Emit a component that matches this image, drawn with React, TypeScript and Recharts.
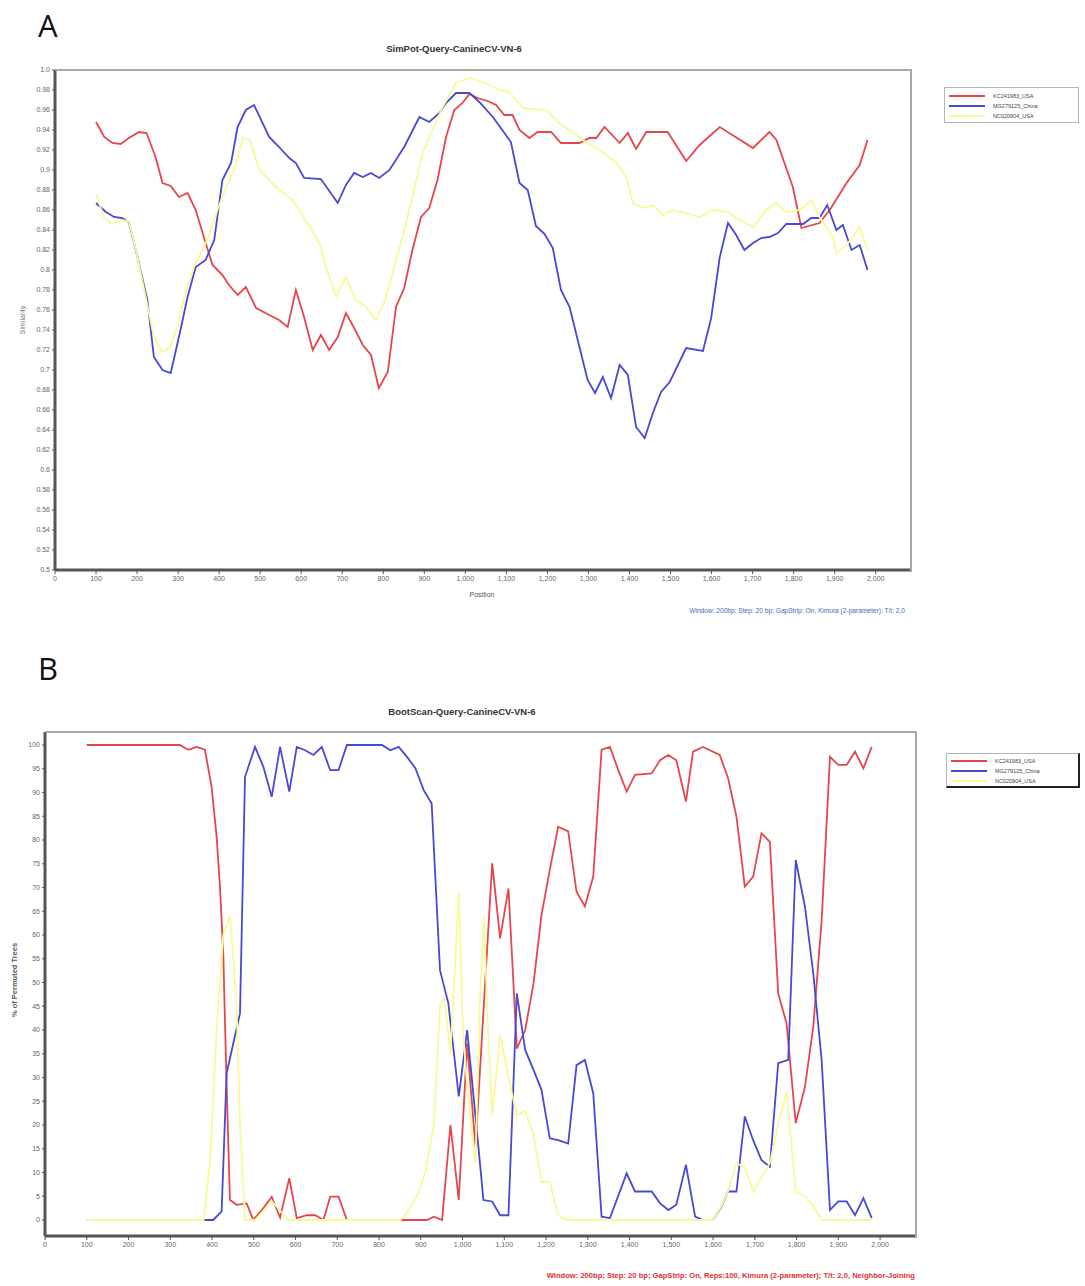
import React from 'react';
import { LineChart, Line, XAxis, YAxis } from 'recharts';

// ---------- Panel A: SimPlot (similarity) ----------
const simKC241983: [number, number][] = [
  [100,0.948],[120,0.933],[140,0.927],[160,0.926],[180,0.932],[205,0.938],[223,0.937],[245,0.913],[262,0.887],[282,0.884],
  [302,0.873],[323,0.877],[343,0.860],[367,0.827],[384,0.805],[408,0.795],[424,0.785],[445,0.775],[465,0.783],[490,0.762],
  [522,0.755],[546,0.750],[567,0.743],[587,0.780],[607,0.753],[628,0.720],[648,0.735],[668,0.720],[689,0.733],[709,0.757],
  [729,0.742],[750,0.725],[770,0.715],[789,0.682],[811,0.698],[831,0.763],[851,0.782],[871,0.820],[892,0.853],[912,0.862],
  [932,0.890],[953,0.933],[973,0.960],[993,0.967],[1010,0.976],[1030,0.972],[1054,0.969],[1075,0.965],[1095,0.955],[1115,0.955],
  [1132,0.940],[1156,0.932],[1176,0.938],[1209,0.938],[1233,0.927],[1278,0.927],[1302,0.932],[1319,0.932],[1339,0.943],[1376,0.927],
  [1396,0.937],[1416,0.921],[1441,0.938],[1493,0.938],[1538,0.909],[1571,0.925],[1620,0.943],[1701,0.922],[1741,0.938],[1758,0.930],
  [1798,0.883],[1819,0.842],[1863,0.847],[1888,0.860],[1929,0.887],[1961,0.905],[1980,0.930],
];
const simMG279125: [number, number][] = [
  [100,0.867],[124,0.858],[144,0.853],[164,0.852],[180,0.848],[201,0.813],[225,0.770],[241,0.713],[262,0.700],[282,0.697],
  [302,0.733],[323,0.773],[343,0.803],[367,0.810],[388,0.830],[408,0.890],[429,0.907],[445,0.943],[465,0.960],[485,0.965],
  [522,0.933],[546,0.923],[571,0.912],[587,0.907],[607,0.892],[648,0.891],[689,0.867],[709,0.885],[729,0.897],[750,0.893],
  [770,0.897],[790,0.892],[815,0.900],[851,0.923],[888,0.953],[912,0.948],[937,0.957],[953,0.967],[977,0.977],[1010,0.977],
  [1034,0.968],[1067,0.953],[1111,0.928],[1132,0.887],[1152,0.880],[1172,0.844],[1193,0.836],[1213,0.822],[1233,0.780],[1254,0.763],
  [1278,0.723],[1298,0.690],[1316,0.677],[1335,0.693],[1355,0.672],[1376,0.705],[1396,0.695],[1416,0.643],[1437,0.632],[1457,0.657],
  [1477,0.678],[1498,0.688],[1538,0.722],[1579,0.719],[1599,0.752],[1620,0.813],[1640,0.847],[1660,0.835],[1680,0.820],[1701,0.827],
  [1721,0.832],[1741,0.833],[1762,0.837],[1782,0.846],[1823,0.846],[1843,0.852],[1863,0.852],[1882,0.865],[1904,0.840],[1920,0.845],
  [1941,0.820],[1961,0.825],[1980,0.800],
];
const simNC020904: [number, number][] = [
  [100,0.876],[120,0.852],[140,0.846],[160,0.850],[180,0.849],[200,0.815],[220,0.775],[240,0.735],[260,0.718],[280,0.722],
  [300,0.745],[320,0.780],[340,0.805],[360,0.820],[380,0.840],[400,0.865],[420,0.885],[440,0.905],[458,0.932],[475,0.930],
  [498,0.900],[538,0.883],[579,0.870],[611,0.850],[644,0.827],[660,0.803],[685,0.773],[709,0.793],[733,0.770],[758,0.763],
  [782,0.750],[802,0.767],[823,0.797],[847,0.833],[871,0.873],[896,0.917],[920,0.940],[945,0.963],[977,0.987],[1010,0.992],
  [1042,0.988],[1083,0.980],[1107,0.978],[1140,0.962],[1197,0.960],[1229,0.947],[1286,0.930],[1327,0.920],[1368,0.907],[1392,0.893],
  [1408,0.867],[1433,0.862],[1457,0.865],[1481,0.855],[1506,0.860],[1538,0.857],[1571,0.853],[1603,0.860],[1640,0.858],[1660,0.852],
  [1701,0.843],[1733,0.860],[1758,0.867],[1782,0.858],[1815,0.860],[1843,0.870],[1863,0.853],[1896,0.833],[1904,0.817],[1929,0.825],
  [1961,0.843],[1980,0.820],
];

// ---------- Panel B: BootScan (% of permuted trees) ----------
const bootKC241983: [number, number][] = [
  [100,100],[323,100],[343,99],[363,99.6],[383,99],[399,91.2],[411,80.7],[419,70.2],[427,56],[435,28],
  [443,4.2],[459,3.2],[483,3.5],[499,0],[523,2.5],[543,4.9],[563,0.5],[585,8.8],[603,0.4],[627,1],
  [647,1],[667,0],[683,4.9],[703,4.9],[723,0],[915,0],[931,0.7],[951,0],[971,20],[991,4.2],
  [1011,37.2],[1031,15.4],[1071,75.1],[1090,59.3],[1110,69.8],[1130,36.1],[1150,40],[1170,49.8],[1189,64.2],[1209,73.7],
  [1229,82.8],[1253,81.8],[1273,69.1],[1293,66],[1313,72.3],[1333,99],[1353,99.6],[1373,94.7],[1393,90.2],[1413,93.7],
  [1453,94],[1473,96.8],[1493,97.9],[1512,96.8],[1535,88.1],[1552,98.6],[1576,99.6],[1616,97.9],[1636,93],[1656,84.9],
  [1676,70.2],[1696,72.3],[1716,81.4],[1736,79.6],[1756,47.7],[1776,41.4],[1798,20.4],[1820,28],[1840,40.7],[1860,63],
  [1880,97.5],[1900,95.8],[1920,95.8],[1940,98.6],[1960,95.1],[1980,99.6],
];
const bootMG279125: [number, number][] = [
  [100,0],[331,0],[403,0],[423,1.8],[435,30.9],[451,37.2],[467,43.5],[479,93.3],[503,99.6],[523,95.4],
  [543,89.1],[563,99.6],[585,90.2],[603,99.6],[623,98.9],[643,97.9],[663,99.6],[683,94.7],[703,94.7],[723,100],
  [807,100],[827,98.9],[847,99.6],[867,97.5],[887,95.1],[907,90.5],[926,87.7],[946,52.6],[966,45.6],[991,26],
  [1011,40],[1038,15.4],[1050,4.2],[1071,3.9],[1090,1],[1110,1],[1130,47.7],[1150,35.8],[1170,31.6],[1189,27.4],
  [1209,17.2],[1229,16.8],[1253,16.1],[1273,32.6],[1293,33.7],[1313,26.7],[1333,0.7],[1353,0.4],[1393,9.8],[1413,6],
  [1453,6],[1473,3.5],[1493,2.1],[1512,3.2],[1535,11.6],[1557,0.7],[1576,0],[1600,0],[1620,2.8],[1636,6],
  [1656,6],[1676,21.8],[1696,16.8],[1716,12.6],[1736,11.2],[1756,33],[1780,33.7],[1798,75.8],[1820,66],[1840,51.9],
  [1860,33.7],[1880,2.1],[1900,3.9],[1920,3.9],[1940,1],[1960,4.6],[1980,0.4],
];
const bootNC020904: [number, number][] = [
  [100,0],[380,0],[395,12],[411,40],[427,60],[443,64],[451,55],[459,45],[467,20],[479,0],
  [503,0],[543,4],[583,0],[851,0],[871,2],[891,5],[911,10],[931,20],[946,45],[956,47],
  [971,35],[991,69],[1001,40],[1011,28],[1031,12],[1041,45],[1051,64],[1061,40],[1071,22],[1090,39],
  [1110,30],[1130,22],[1150,23],[1170,18],[1189,8],[1209,8],[1229,1],[1249,0],[1600,0],[1620,3],
  [1636,6],[1656,12],[1676,11],[1696,6],[1716,9],[1736,12],[1756,20],[1776,27],[1798,6],[1820,5],
  [1840,3],[1860,0],[1980,0],
];

const seriesNames = ['KC241983_USA', 'MG279125_China', 'NC020904_USA'];
const seriesColors = ['#E4474B', '#4848D4', '#F9F99A'];

const xTicks = [0,100,200,300,400,500,600,700,800,900,1000,1100,1200,1300,1400,1500,1600,1700,1800,1900,2000];
const yTicksA = [0.5,0.52,0.54,0.56,0.58,0.6,0.62,0.64,0.66,0.68,0.7,0.72,0.74,0.76,0.78,0.8,0.82,0.84,0.86,0.88,0.9,0.92,0.94,0.96,0.98,1.0];
const yTicksB = [0,5,10,15,20,25,30,35,40,45,50,55,60,65,70,75,80,85,90,95,100];

const toPts = (arr: [number, number][]) => arr.map(([x, y]) => ({ x, y }));

const fmtX = (v: number) => v.toLocaleString('en-US');
const fmtA = (v: number) => (v === 1 ? '1.0' : String(Number(v.toFixed(2))));

const FONT = '"Liberation Sans", Arial, sans-serif';
const tickStyle = { fontSize: 7, fill: '#666666', fontFamily: FONT };

function Txt(props: { x: number; y: number; size: number; color?: string; bold?: boolean; anchor?: 'start' | 'middle' | 'end'; rotate?: boolean; family?: string; children: React.ReactNode }) {
  const { x, y, size, color = '#333', bold = false, anchor = 'start', rotate = false, family = FONT, children } = props;
  const tx = anchor === 'middle' ? '-50%' : anchor === 'end' ? '-100%' : '0';
  return (
    <div
      style={{
        position: 'absolute', left: x, top: y, fontSize: size, color, fontWeight: bold ? 700 : 400,
        fontFamily: family, whiteSpace: 'nowrap', lineHeight: 1,
        transform: rotate ? 'translate(-50%,-50%) rotate(-90deg)' : `translate(${tx},-50%)`,
      }}
    >
      {children}
    </div>
  );
}

function LegendBox(props: { left: number; top: number; width: number; height: number; rowTop: number; dark?: boolean }) {
  const { left, top, width, height, rowTop, dark } = props;
  return (
    <div style={{
      position: 'absolute', left, top, width, height, background: '#fff',
      borderTop: '1px solid #b5b5b5', borderLeft: '1px solid #b5b5b5',
      borderRight: dark ? '2px solid #222' : '1px solid #b5b5b5', borderBottom: dark ? '2px solid #222' : '1px solid #b5b5b5',
    }}>
      {seriesNames.map((n, i) => (
        <div key={n} style={{ position: 'absolute', left: 4, top: rowTop + i * 10 - 1, width: 36, height: 2, background: seriesColors[i] }} />
      ))}
      {seriesNames.map((n, i) => (
        <div key={n + 't'} style={{ position: 'absolute', left: 48, top: rowTop + i * 10 - 3, fontSize: 5.5, lineHeight: '6px', color: '#444', fontFamily: FONT, whiteSpace: 'nowrap' }}>{n}</div>
      ))}
    </div>
  );
}

export default function App() {
  const simSeries = [simKC241983, simMG279125, simNC020904];
  const bootSeries = [bootKC241983, bootMG279125, bootNC020904];
  return (
    <div style={{ position: 'absolute', left: 0, top: 0, width: 1085, height: 1286, background: '#fff', overflow: 'hidden' }}>
      {/* Panel A */}
      <Txt x={38} y={25} size={31} color="#111" family='"Open Sans", "Liberation Sans", sans-serif'>A</Txt>
      <Txt x={454} y={49} size={9.5} bold color="#333" anchor="middle">SimPot-Query-CanineCV-VN-6</Txt>
      <div style={{ position: 'absolute', left: 0, top: 0 }}>
        <LineChart width={1085} height={640} margin={{ top: 70, right: 174, left: 15, bottom: 40 }}>
          <XAxis dataKey="x" type="number" domain={[0, 2086]} ticks={xTicks} tickFormatter={fmtX} allowDataOverflow
            axisLine={{ stroke: '#555', strokeWidth: 3 }} tickLine={{ stroke: '#555' }} tickSize={4} tick={tickStyle} height={30} interval={0} />
          <YAxis type="number" domain={[0.5, 1.0]} ticks={yTicksA} tickFormatter={fmtA} allowDataOverflow
            axisLine={{ stroke: '#555', strokeWidth: 3 }} tickLine={{ stroke: '#555' }} tickSize={3} tick={tickStyle} width={40} interval={0} />
          {simSeries.map((s, i) => (
            <Line key={seriesNames[i]} data={toPts(s)} dataKey="y" type="linear" stroke={seriesColors[i]} strokeWidth={1.8} dot={false} isAnimationActive={false} />
          ))}
        </LineChart>
      </div>
      <div style={{ position: 'absolute', left: 55, top: 69, width: 855, height: 501, borderTop: '2px solid #a8a8a8', borderRight: '2px solid #a8a8a8', pointerEvents: 'none' }} />
      <Txt x={22} y={320} size={7} color="#777" rotate>Similarity</Txt>
      <Txt x={482} y={594} size={7} color="#555" anchor="middle">Position</Txt>
      <Txt x={905} y={611} size={6.6} color="#3d6db5" anchor="end">Window: 200bp; Step: 20 bp; GapStrip: On, Kimura (2-parameter); T/t: 2,0</Txt>
      <LegendBox left={944} top={87} width={133} height={34} rowTop={8} />

      {/* Panel B */}
      <Txt x={38} y={668} size={31} color="#111" family='"Open Sans", "Liberation Sans", sans-serif'>B</Txt>
      <Txt x={462} y={712} size={9.5} bold color="#333" anchor="middle">BootScan-Query-CanineCV-VN-6</Txt>
      <div style={{ position: 'absolute', left: 0, top: 640 }}>
        <LineChart width={1085} height={646} margin={{ top: 92, right: 169, left: 5, bottom: 20 }}>
          <XAxis dataKey="x" type="number" domain={[0, 2086]} ticks={xTicks} tickFormatter={fmtX} allowDataOverflow
            axisLine={{ stroke: '#555', strokeWidth: 3 }} tickLine={{ stroke: '#555' }} tickSize={4} tick={tickStyle} height={30} interval={0} />
          <YAxis type="number" domain={[-3.37, 102.74]} ticks={yTicksB} allowDataOverflow
            axisLine={{ stroke: '#555', strokeWidth: 3 }} tickLine={{ stroke: '#555' }} tickSize={3} tick={tickStyle} width={40} interval={0} />
          {bootSeries.map((s, i) => (
            <Line key={seriesNames[i]} data={toPts(s)} dataKey="y" type="linear" stroke={seriesColors[i]} strokeWidth={1.8} dot={false} isAnimationActive={false} />
          ))}
        </LineChart>
      </div>
      <div style={{ position: 'absolute', left: 45, top: 731, width: 870, height: 505, borderTop: '2px solid #a8a8a8', borderRight: '2px solid #a8a8a8', pointerEvents: 'none' }} />
      <Txt x={15} y={980} size={7.5} bold color="#555" rotate>% of Permuted Trees</Txt>
      <Txt x={915} y={1276} size={7.6} bold color="#e03030" anchor="end">Window: 200bp; Step: 20 bp; GapStrip: On, Reps:100, Kimura (2-parameter); T/t: 2,0, Neighbor-Joining</Txt>
      <LegendBox left={946} top={753} width={131} height={32} rowTop={7} dark />
    </div>
  );
}
